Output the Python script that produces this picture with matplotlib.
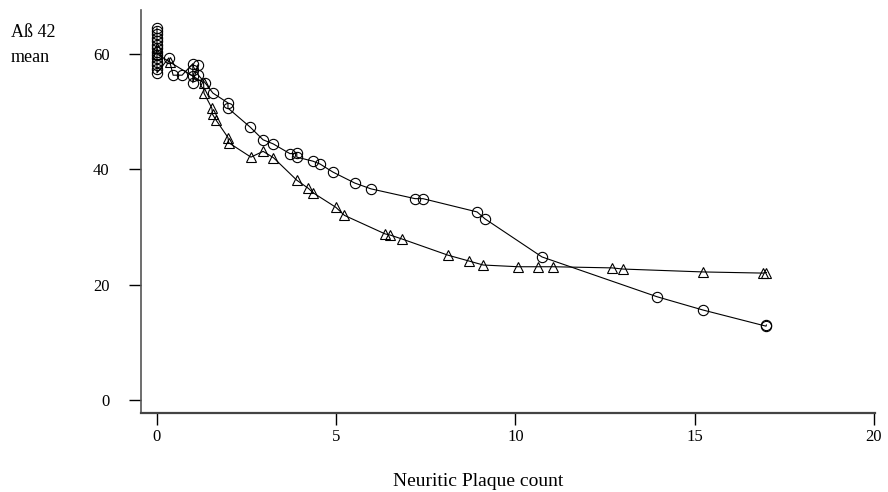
import matplotlib
matplotlib.use('Agg')
import matplotlib.pyplot as plt

plt.rcParams['font.family'] = ['Liberation Serif', 'DejaVu Serif']

# circle series
circ_x = [0, 0, 0, 0, 0, 0, 0, 0, 0, 0, 0, 0, 0, 0,
          0.33, 0.45, 0.7, 1.0, 1.0, 1.0, 1.0, 1.14, 1.14, 1.34, 1.56, 1.98, 1.98,
          2.6, 2.96, 3.24, 3.71, 3.9, 3.9, 4.35, 4.55, 4.91, 5.52, 5.97, 7.2, 7.42,
          8.93, 9.15, 10.74, 13.95, 15.23, 16.99, 17.0]
circ_y = [64.5, 64.0, 63.4, 62.8, 62.2, 61.6, 61.0, 60.4, 59.8, 59.2, 58.6, 58.0, 57.4, 56.7,
          59.3, 56.3, 56.3, 58.3, 57.2, 56.2, 55.0, 58.1, 56.4, 55.0, 53.2, 51.5, 50.6,
          47.3, 45.1, 44.4, 42.7, 42.8, 42.1, 41.4, 40.9, 39.5, 37.6, 36.6, 34.9, 34.9,
          32.6, 31.4, 24.8, 17.9, 15.6, 12.8, 13.0]

# triangle series
tri_x = [0, 0, 0.35, 1.3, 1.31, 1.53, 1.55, 1.65, 1.98, 2.0, 2.62, 2.96, 3.25,
         3.9, 4.22, 4.36, 4.99, 5.23, 6.36, 6.5, 6.84, 8.12, 8.7, 9.1,
         10.07, 10.63, 11.05, 12.7, 13.0, 15.23, 16.9, 17.0]
tri_y = [61.0, 60.0, 58.6, 55.0, 53.2, 50.6, 49.5, 48.5, 45.5, 44.6, 42.1, 43.1, 42.0,
         38.1, 36.7, 35.9, 33.4, 32.0, 28.8, 28.6, 27.9, 25.1, 24.1, 23.4,
         23.1, 23.1, 23.1, 22.9, 22.7, 22.2, 22.0, 22.1]

xticks = [0, 5, 10, 15, 20]
yticks = [0, 20, 40, 60]

fig = plt.figure(figsize=(8.88, 4.92), dpi=100)
ax = fig.add_axes([141/888, 79/492, 734/888, 403/492])

ax.plot(circ_x, circ_y, color='black', lw=0.8, marker='o', ms=7.4,
        mfc='none', mec='black', mew=0.8)
ax.plot(tri_x, tri_y, color='black', lw=0.8, marker='^', ms=7.4,
        mfc='none', mec='black', mew=0.8)

ax.set_xlim(-0.446, 20.03)
ax.set_ylim(-2.25, 67.6)
ax.set_xticks(xticks)
ax.set_yticks(yticks)

for s in ['top', 'right']:
    ax.spines[s].set_visible(False)
ax.spines['left'].set_color('#555555')
ax.spines['bottom'].set_color('#444444')
ax.spines['left'].set_linewidth(1.2)
ax.spines['bottom'].set_linewidth(1.6)

ax.tick_params(axis='y', direction='out', length=8.6, width=1, pad=14, labelsize=12)
ax.tick_params(axis='x', direction='out', length=8.6, width=1, pad=3, labelsize=12)

fig.text(11/888, 1 - 24/492, 'A\u00df 42\nmean', ha='left', va='top', fontsize=13,
         linespacing=1.6)
fig.text(478/888, 1 - 481/492, 'Neuritic Plaque count', ha='center', va='center',
         fontsize=14)

fig.savefig('out.png', dpi=100)
